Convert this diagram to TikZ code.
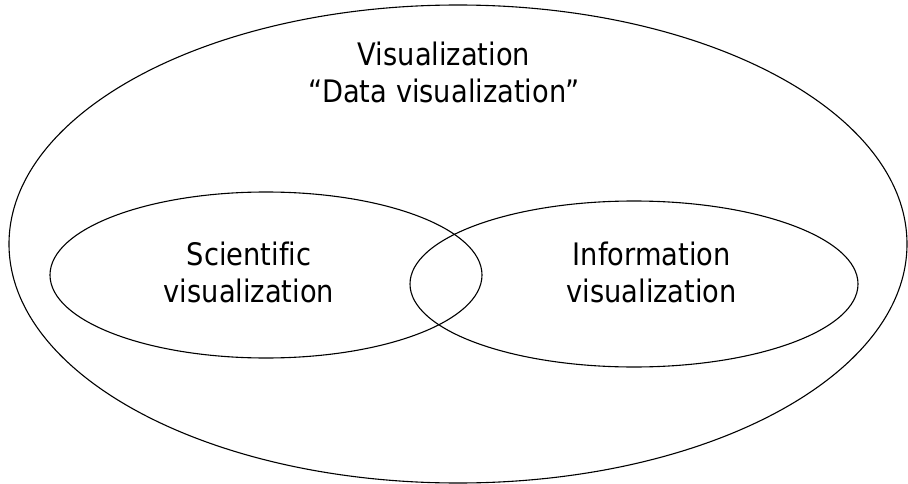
\documentclass[tikz,border=0pt]{standalone}
\usepackage{fontspec}
\setmainfont{DejaVu Sans}[FakeStretch=0.88,Ligatures=CommonOff]
\usepackage{tikz}
\usetikzlibrary{shapes.geometric}
\begin{document}
\begin{tikzpicture}[x=1pt,y=-1pt]
% Styles (MODIFIABLES)
\tikzstyle{ensemble}=[draw,ellipse,line width=1.1pt,inner sep=0pt]
\tikzstyle{texte}=[align=center,inner sep=0pt,font=\fontsize{31}{37}\selectfont]
% Cadre
\useasboundingbox (0,0) rectangle (908,484);
% Ensembles
\node[ensemble,minimum width=898,minimum height=478] (V) at (458,244) {};
\node[ensemble,minimum width=432,minimum height=166] (S) at (266,275) {};
\node[ensemble,minimum width=448,minimum height=166] (I) at (634,284) {};
% Textes
\node[texte] (Vt) at (444,72.7) {Visualization\\“Data visualization”};
\node[texte] (St) at (249,272.4) {Scientific\\visualization};
\node[texte] (It) at (651.7,272.4) {Information\\visualization};
\end{tikzpicture}
\end{document}
